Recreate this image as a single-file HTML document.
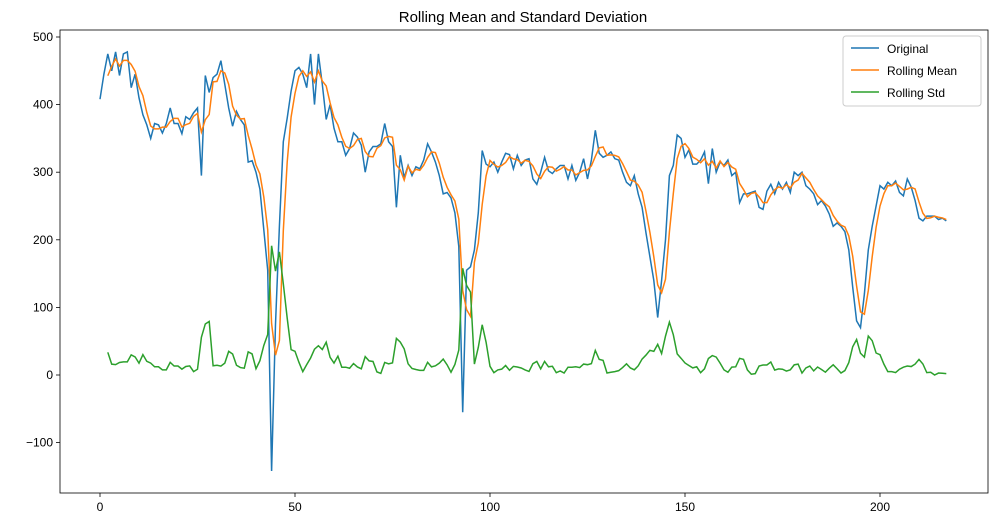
<!DOCTYPE html>
<html><head><meta charset="utf-8"><style>
body{margin:0;background:#fff;}
svg text{font-family:"Liberation Sans","DejaVu Sans",sans-serif;}
</style></head><body>
<svg id="s" width="997" height="526" xmlns="http://www.w3.org/2000/svg">
<rect width="997" height="526" fill="#fff"/>
<text x="523" y="22" font-size="15" text-anchor="middle">Rolling Mean and Standard Deviation</text>
<g id="ticks" font-size="12"></g>
<polyline id="o" fill="none" stroke="#1f77b4" stroke-width="1.5"/>
<polyline id="m" fill="none" stroke="#ff7f0e" stroke-width="1.5"/>
<polyline id="d" fill="none" stroke="#2ca02c" stroke-width="1.5"/>
<rect x="60" y="30" width="928" height="463" fill="none" stroke="#000" stroke-width="0.8"/>
<rect x="843" y="36" width="138" height="70" rx="3" fill="#fff" stroke="#ccc"/>
<line x1="851" y1="48" x2="879" y2="48" stroke="#1f77b4" stroke-width="1.5"/>
<text x="887" y="53" font-size="12">Original</text>
<line x1="851" y1="70" x2="879" y2="70" stroke="#ff7f0e" stroke-width="1.5"/>
<text x="887" y="75" font-size="12">Rolling Mean</text>
<line x1="851" y1="92" x2="879" y2="92" stroke="#2ca02c" stroke-width="1.5"/>
<text x="887" y="97" font-size="12">Rolling Std</text>
</svg>
<script>
var v=[408,445,475,450,478,443,475,478,425,445,410,385,370,350,372,370,358,372,395,372,372,357,382,378,388,395,295,443,418,440,445,465,430,395,368,390,378,370,315,317,300,275,215,155,-142,75,220,345,380,420,450,455,445,425,475,400,475,430,378,400,365,345,345,325,335,358,352,340,300,330,338,338,342,372,345,338,248,325,292,310,295,308,305,318,342,330,315,295,268,270,262,240,190,-55,155,160,185,240,332,312,308,315,300,315,328,326,305,325,310,318,320,290,282,300,322,302,298,305,310,310,290,310,288,300,320,290,318,362,328,322,325,330,320,318,300,285,280,295,268,248,210,175,140,85,140,200,295,310,355,350,322,333,312,312,318,330,283,335,300,315,310,318,295,300,255,268,268,270,272,248,245,272,282,268,285,275,285,270,300,295,300,280,275,268,252,258,250,238,220,225,220,212,185,130,80,70,120,185,220,250,280,275,285,280,287,270,265,290,278,258,232,228,235,235,235,230,232,228];
function X(i){return 100+i*3.9}function Y(a){return 375-a*0.676}
var o=[],m=[],d=[];
for(var i=0;i<v.length;i++){o.push(X(i)+","+Y(v[i]));
if(i>=2){var a=v[i-2],b=v[i-1],c=v[i],mu=(a+b+c)/3;var sd=Math.sqrt(((a-mu)*(a-mu)+(b-mu)*(b-mu)+(c-mu)*(c-mu))/2);
m.push(X(i)+","+Y(mu));d.push(X(i)+","+Y(sd));}}
document.getElementById('o').setAttribute('points',o.join(' '));
document.getElementById('m').setAttribute('points',m.join(' '));
document.getElementById('d').setAttribute('points',d.join(' '));
var g=document.getElementById('ticks'),h='';
[0,50,100,150,200].forEach(function(t){var x=X(t);h+='<line x1="'+x+'" y1="493" x2="'+x+'" y2="497" stroke="#000" stroke-width="0.8"/><text x="'+x+'" y="511" text-anchor="middle">'+t+'</text>';});
[-100,0,100,200,300,400,500].forEach(function(t){var y=Y(t);h+='<line x1="56" y1="'+y+'" x2="60" y2="'+y+'" stroke="#000" stroke-width="0.8"/><text x="53" y="'+(y+4)+'" text-anchor="end">'+(t<0?'\u2212'+(-t):t)+'</text>';});
g.innerHTML=h;
</script>
</body></html>
